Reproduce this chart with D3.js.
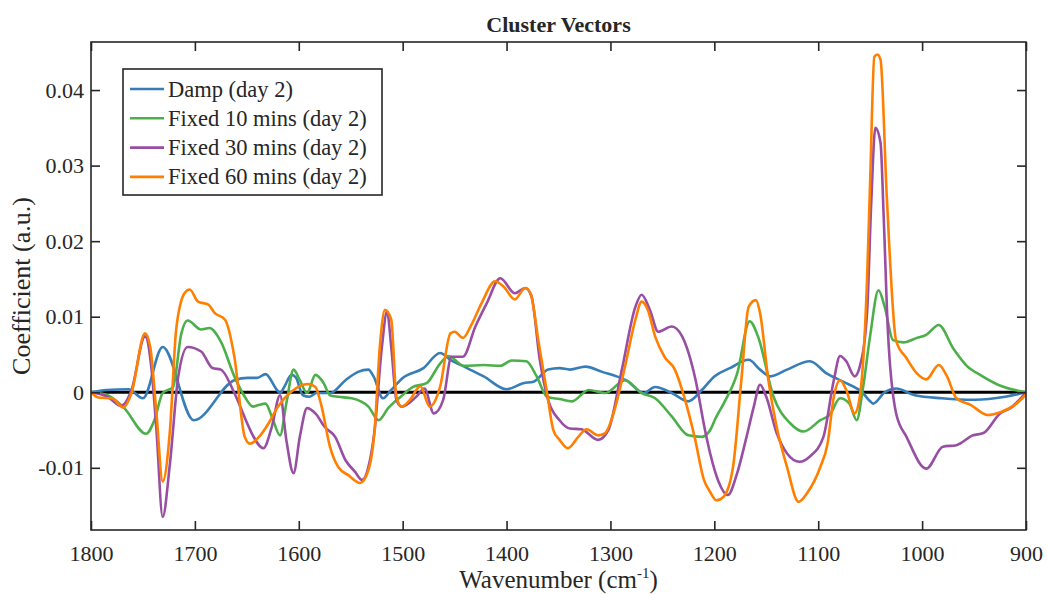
<!DOCTYPE html>
<html>
<head>
<meta charset="utf-8">
<script src="https://cdn.jsdelivr.net/npm/d3@7"></script>
<style>
  body { margin: 0; background: #fff; }
  text { font-family: "Liberation Serif", "Times New Roman", serif; fill: #262626; }
  .series { fill: none; stroke-width: 2.6; stroke-linejoin: round; }
</style>
</head>
<body>
<script>
// Series values as [wavenumber, coefficient]
var damp = [
  [1800, 0], [1785, 0.0003], [1764, 0.0004], [1750, -0.0008], [1731, 0.006], [1701, -0.0037],
  [1662, 0.0016], [1649, 0.0019], [1640, 0.0019], [1632, 0.0024], [1621, 0.0003], [1618, -0.0001],
  [1614, 0.0007], [1607, 0.0023], [1603, 0.002], [1596, -0.0004], [1590, -0.0006], [1583, -0.0001],
  [1570, -0.0001], [1555, 0.0016], [1543, 0.0027], [1533, 0.003], [1528, 0.0021], [1519, -0.0008],
  [1511, 0.0003], [1500, 0.0019], [1480, 0.0032], [1464, 0.0052], [1454, 0.0043], [1438, 0.0032],
  [1422, 0.0021], [1400, 0.0004], [1384, 0.0012], [1374, 0.0014], [1360, 0.003], [1349, 0.0032],
  [1339, 0.003], [1324, 0.0034], [1308, 0.0027], [1292, 0.002], [1285, 0.0016], [1268, -0.0001],
  [1257, 0.0007], [1241, -0.0001], [1225, -0.0012], [1212, 0.0003], [1200, 0.0021], [1185, 0.0032],
  [1167, 0.0043], [1156, 0.003], [1146, 0.0021], [1130, 0.003], [1108, 0.0041], [1092, 0.0025],
  [1076, 0.0014], [1057, -0.0001], [1050, -0.0012], [1047, -0.0015], [1036, 0], [1025, 0.0005],
  [1007, -0.0004], [981, -0.0008], [949, -0.001], [920, -0.0006], [900, 0]
];
var fixed10 = [
  [1800, 0], [1784, -0.0004], [1768, -0.0021], [1747, -0.0055], [1739, -0.0037], [1731, -0.0001],
  [1721, 0.0007], [1713, 0.0078], [1707, 0.0095], [1694, 0.0083], [1686, 0.0085], [1675, 0.0067],
  [1662, 0.0021], [1652, -0.0006], [1644, -0.0019], [1639, -0.0017], [1632, -0.0015], [1626, -0.0032],
  [1618, -0.0057], [1612, -0.0015], [1605, 0.003], [1599, 0.0016], [1592, -0.0001], [1584, 0.0023],
  [1576, 0.0012], [1570, -0.0004], [1562, -0.0006], [1549, -0.0008], [1533, -0.0019], [1523, -0.0037],
  [1514, -0.0021], [1502, -0.0006], [1490, 0.0007], [1477, 0.0012], [1464, 0.0038], [1456, 0.0048],
  [1441, 0.0035], [1422, 0.0036], [1406, 0.0035], [1395, 0.0042], [1381, 0.0041], [1371, 0.0021],
  [1361, -0.0006], [1349, -0.0009], [1337, -0.0012], [1321, 0.0003], [1305, -0.0001], [1286, 0.0016],
  [1270, -0.0001], [1257, -0.0008], [1241, -0.0032], [1225, -0.0057], [1212, -0.0059], [1204, -0.005],
  [1199, -0.0035], [1191, -0.0015], [1178, 0.0025], [1166, 0.0094], [1158, 0.0074], [1143, -0.0006],
  [1127, -0.0041], [1114, -0.0052], [1098, -0.0037], [1089, -0.003], [1079, -0.0008], [1070, -0.0015],
  [1063, -0.0037], [1057, 0.0005], [1050, 0.0075], [1042, 0.0135], [1036, 0.0113], [1028, 0.0069],
  [1018, 0.0066], [1005, 0.0072], [996, 0.0076], [984, 0.0089], [970, 0.0058], [957, 0.0035],
  [943, 0.0022], [927, 0.001], [900, 0]
];
var fixed30 = [
  [1800, 0], [1784, -0.0006], [1771, -0.0018], [1761, 0.0003], [1748, 0.0074], [1742, 0.0034],
  [1737, -0.005], [1731, -0.0165], [1724, -0.0094], [1716, 0.0021], [1707, 0.006], [1694, 0.0054],
  [1683, 0.0032], [1675, 0.003], [1662, -0.0001], [1650, -0.004], [1645, -0.0055], [1634, -0.0074],
  [1626, -0.0046], [1618, -0.0004], [1612, -0.0063], [1605, -0.0107], [1599, -0.0059], [1592, -0.0021],
  [1584, -0.0028], [1575, -0.0046], [1565, -0.0059], [1555, -0.009], [1546, -0.0105], [1539, -0.0116],
  [1533, -0.0099], [1527, -0.005], [1520, 0.006], [1515, 0.0107], [1511, 0.006], [1506, -0.001],
  [1501, -0.0019], [1487, -0.0006], [1479, 0.0005], [1470, -0.0028], [1461, -0.001], [1453, 0.0047],
  [1442, 0.0047], [1430, 0.0087], [1419, 0.0118], [1406, 0.0151], [1392, 0.0131], [1382, 0.0138],
  [1376, 0.0127], [1368, 0.0043], [1360, -0.001], [1349, -0.0037], [1339, -0.0048], [1328, -0.0049],
  [1312, -0.0063], [1302, -0.005], [1289, 0.003], [1276, 0.0113], [1270, 0.0129], [1262, 0.0109],
  [1254, 0.008], [1241, 0.0087], [1231, 0.0074], [1218, 0.0016], [1209, -0.005], [1204, -0.0081],
  [1196, -0.0118], [1187, -0.0136], [1178, -0.0107], [1169, -0.0059], [1162, -0.0019], [1156, 0.001],
  [1150, -0.0006], [1140, -0.0054], [1130, -0.0081], [1118, -0.0092], [1108, -0.0085], [1095, -0.0059],
  [1085, 0.0016], [1079, 0.0048], [1073, 0.0041], [1065, 0.0021], [1060, 0.0034], [1053, 0.0105],
  [1049, 0.025], [1045, 0.035], [1040, 0.033], [1037, 0.0233], [1033, 0.0083], [1025, -0.0028],
  [1015, -0.0059], [996, -0.0101], [980, -0.0072], [967, -0.007], [951, -0.0057], [941, -0.0054],
  [925, -0.0028], [914, -0.002], [900, 0]
];
var fixed60 = [
  [1800, 0], [1793, -0.0007], [1780, -0.0008], [1769, -0.002], [1761, -0.0001], [1748, 0.0078],
  [1743, 0.006], [1737, -0.0028], [1731, -0.0118], [1724, -0.005], [1718, 0.0083], [1710, 0.0131],
  [1705, 0.0136], [1697, 0.012], [1687, 0.0116], [1681, 0.0105], [1671, 0.0096], [1662, 0.0047],
  [1652, -0.0059], [1647, -0.0068], [1637, -0.0057], [1629, -0.0041], [1620, -0.0019], [1607, 0.0001],
  [1591, 0.0011], [1584, 0.0007], [1578, -0.0019], [1570, -0.0072], [1562, -0.0099], [1552, -0.011],
  [1541, -0.012], [1533, -0.0103], [1527, -0.005], [1522, 0.006], [1517, 0.0109], [1511, 0.0096],
  [1506, -0.0006], [1501, -0.0019], [1493, -0.001], [1483, 0.0008], [1474, -0.0019], [1464, 0.0007],
  [1454, 0.0078], [1450, 0.008], [1442, 0.0072], [1434, 0.0089], [1424, 0.0118], [1411, 0.0147],
  [1403, 0.014], [1392, 0.0123], [1382, 0.0138], [1377, 0.0131], [1369, 0.0065], [1361, -0.0001],
  [1355, -0.005], [1349, -0.0063], [1341, -0.0074], [1331, -0.0059], [1323, -0.0049], [1312, -0.0057],
  [1305, -0.0054], [1296, -0.0023], [1286, 0.0034], [1276, 0.0096], [1270, 0.012], [1264, 0.0109],
  [1257, 0.0074], [1248, 0.0047], [1238, 0.003], [1229, -0.0006], [1219, -0.0059], [1210, -0.0116],
  [1204, -0.0132], [1198, -0.0143], [1191, -0.0138], [1182, -0.0099], [1174, 0.0016], [1167, 0.0113],
  [1160, 0.0122], [1156, 0.0105], [1148, 0.0016], [1140, -0.0046], [1130, -0.0099], [1119, -0.0145],
  [1111, -0.0134], [1098, -0.0099], [1091, -0.0068], [1085, -0.0006], [1079, 0.0016], [1073, 0.0003],
  [1065, -0.0028], [1060, -0.0006], [1053, 0.0149], [1050, 0.028], [1046, 0.0444], [1043, 0.0447],
  [1040, 0.044], [1034, 0.0259], [1025, 0.0068], [1015, 0.0045], [1005, 0.0025], [996, 0.0017],
  [984, 0.0036], [976, 0.0021], [967, -0.0008], [953, -0.0017], [937, -0.003], [924, -0.0026],
  [911, -0.0017], [900, -0.0003]
];

var seriesNames = ["Damp (day 2)", "Fixed 10 mins (day 2)", "Fixed 30 mins (day 2)", "Fixed 60 mins (day 2)"];
var seriesColors = ["#377eb8", "#4daf4a", "#984ea3", "#ff7f00"];
var seriesData = [damp, fixed10, fixed30, fixed60];

var xTicks = [1800, 1700, 1600, 1500, 1400, 1300, 1200, 1100, 1000, 900];
var yTicks = [-0.01, 0, 0.01, 0.02, 0.03, 0.04];

// Size of the svg and the plot box
var svg_width = 1047;
var svg_height = 594;
var plot_left = 91;
var plot_right = 1026;
var plot_top = 42;
var plot_bottom = 530;
var tick_len = 9;

var x = d3.scaleLinear().domain([1800, 900]).range([plot_left, plot_right]);
var y = d3.scaleLinear().domain([-0.01823, 0.04636]).range([plot_bottom, plot_top]);

var svg = d3.select('body').append('svg')
  .attr('width', svg_width)
  .attr('height', svg_height);

// Clip so the lines stay inside the box
svg.append('clipPath').attr('id', 'plot-clip')
  .append('rect')
  .attr('x', plot_left).attr('y', plot_top)
  .attr('width', plot_right - plot_left).attr('height', plot_bottom - plot_top);

// Zero line
svg.append('line')
  .attr('x1', plot_left).attr('x2', plot_right)
  .attr('y1', y(0)).attr('y2', y(0))
  .attr('stroke', '#000').attr('stroke-width', 3);

var line = d3.line()
  .x(function(d) { return x(d[0]); })
  .y(function(d) { return y(d[1]); })
  .curve(d3.curveMonotoneX);

svg.append('g').attr('clip-path', 'url(#plot-clip)')
  .selectAll('path.series')
  .data(seriesData)
  .enter()
  .append('path')
  .attr('class', 'series')
  .attr('stroke', function(d, i) { return seriesColors[i]; })
  .attr('d', line);

// Axes: ticks point inwards, on all four sides
var axisStyle = function(g) {
  g.select('.domain').remove();
  g.selectAll('.tick line').attr('stroke', '#262626').attr('stroke-width', 1.6);
  g.selectAll('.tick text')
    .style('font-family', '"Liberation Serif", "Times New Roman", serif')
    .style('font-size', '22px')
    .attr('fill', '#262626');
};

svg.append('g')
  .attr('transform', 'translate(0,' + plot_bottom + ')')
  .call(d3.axisBottom(x).tickValues(xTicks).tickSize(-tick_len).tickPadding(15).tickFormat(d3.format('d')))
  .call(axisStyle);

svg.append('g')
  .attr('transform', 'translate(0,' + plot_top + ')')
  .call(d3.axisTop(x).tickValues(xTicks).tickSize(-tick_len).tickFormat(''))
  .call(axisStyle);

svg.append('g')
  .attr('transform', 'translate(' + plot_left + ',0)')
  .call(d3.axisLeft(y).tickValues(yTicks).tickSize(-tick_len).tickPadding(7)
    .tickFormat(function(d) { return d === 0 ? '0' : d3.format('.2f')(d).replace('−', '-'); }))
  .call(axisStyle);

svg.append('g')
  .attr('transform', 'translate(' + plot_right + ',0)')
  .call(d3.axisRight(y).tickValues(yTicks).tickSize(-tick_len).tickFormat(''))
  .call(axisStyle);

// Plot box
svg.append('rect')
  .attr('x', plot_left).attr('y', plot_top)
  .attr('width', plot_right - plot_left).attr('height', plot_bottom - plot_top)
  .attr('fill', 'none').attr('stroke', '#262626').attr('stroke-width', 1.6);

// Title and axis labels
svg.append('text')
  .attr('x', (plot_left + plot_right) / 2).attr('y', 32)
  .attr('text-anchor', 'middle')
  .style('font-size', '22px').style('font-weight', 'bold')
  .attr('fill', '#000')
  .text('Cluster Vectors');

var xlab = svg.append('text')
  .attr('x', (plot_left + plot_right) / 2).attr('y', 588)
  .attr('text-anchor', 'middle')
  .style('font-size', '25px');
xlab.append('tspan').text('Wavenumber (cm');
xlab.append('tspan').attr('dy', -10).style('font-size', '15px').text('-1');
xlab.append('tspan').attr('dy', 10).text(')');

svg.append('text')
  .attr('text-anchor', 'middle')
  .attr('transform', 'translate(30,' + ((plot_top + plot_bottom) / 2) + ') rotate(-90)')
  .style('font-size', '26px')
  .text('Coefficient (a.u.)');

// Legend
var legend_x = 123;
var legend_y = 69;
var legend = svg.append('g');
legend.append('rect')
  .attr('x', legend_x).attr('y', legend_y)
  .attr('width', 259).attr('height', 126)
  .attr('fill', '#fff').attr('stroke', '#262626').attr('stroke-width', 1.6);

legend.selectAll('line.legend-line')
  .data(seriesNames)
  .enter()
  .append('line')
  .attr('class', 'legend-line')
  .attr('x1', legend_x + 7).attr('x2', legend_x + 41)
  .attr('y1', function(d, i) { return legend_y + 20 + i * 29.3; })
  .attr('y2', function(d, i) { return legend_y + 20 + i * 29.3; })
  .attr('stroke', function(d, i) { return seriesColors[i]; })
  .attr('stroke-width', 2.6);

legend.selectAll('text.legend-text')
  .data(seriesNames)
  .enter()
  .append('text')
  .attr('class', 'legend-text')
  .attr('x', legend_x + 45)
  .attr('y', function(d, i) { return legend_y + 27.5 + i * 29.3; })
  .style('font-size', '22.5px')
  .text(function(d) { return d; });
</script>
</body>
</html>
